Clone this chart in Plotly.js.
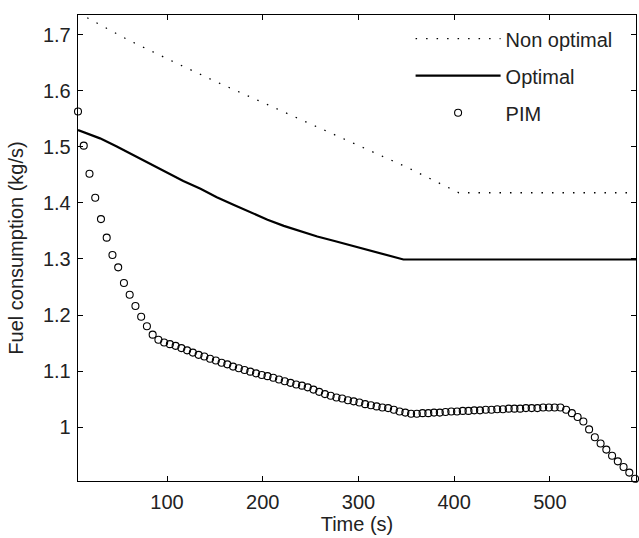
<!DOCTYPE html>
<html>
<head>
<meta charset="utf-8">
<script src="https://cdn.plot.ly/plotly-3.0.1.min.js"></script>
<style>html,body{margin:0;padding:0;background:#fff;}#chart{width:639px;height:538px;}</style>
</head>
<body>
<div id="chart"></div>
<script>
// Non optimal (dotted)
const nonOptT = [7, 60, 110, 150, 200, 250, 300, 350, 405, 590];
const nonOptV = [1.739, 1.690, 1.649, 1.617, 1.579, 1.541, 1.503, 1.464, 1.418, 1.418];

// Optimal (solid)
const optT = [7, 20, 30, 47, 65, 82, 100, 117, 135, 152, 170, 187, 205, 222, 240, 257, 275, 292, 310, 328, 347, 590];
const optV = [1.530, 1.522, 1.515, 1.501, 1.485, 1.470, 1.454, 1.439, 1.425, 1.410, 1.396, 1.383, 1.370, 1.359, 1.349, 1.340, 1.332, 1.324, 1.316, 1.308, 1.299, 1.299];

// PIM (circles)
const pimT = [7, 13, 19, 25, 31, 37, 43, 49, 55, 61, 67, 73, 79, 85, 91,
  97, 103, 109, 115, 121, 127, 133, 139, 145, 151, 157, 163, 169, 175, 181, 187, 193, 199,
  205, 211, 217, 223, 229, 235, 241, 247, 253, 259, 265, 271, 277, 283, 289, 295,
  301, 307, 313, 319, 325, 331, 337, 343, 349, 355, 361, 367, 373, 379, 385, 391, 397,
  403, 409, 415, 421, 427, 433, 439, 445, 451, 457, 463, 469, 475, 481, 487, 493, 499, 505,
  511, 517, 523, 529, 535, 541, 547, 553, 559, 565, 571, 577, 583, 589];
const pimV = [1.563, 1.502, 1.452, 1.409, 1.371, 1.338, 1.307, 1.285, 1.257, 1.236, 1.216, 1.197, 1.180, 1.165, 1.156,
  1.151, 1.148, 1.145, 1.141, 1.137, 1.133, 1.129, 1.126, 1.122, 1.119, 1.115, 1.112, 1.108, 1.105, 1.102, 1.099, 1.096, 1.093,
  1.091, 1.088, 1.085, 1.082, 1.079, 1.076, 1.074, 1.071, 1.067, 1.063, 1.059, 1.056, 1.053, 1.051, 1.048, 1.046,
  1.044, 1.041, 1.039, 1.037, 1.035, 1.034, 1.031, 1.028, 1.026, 1.024, 1.024, 1.025, 1.025, 1.026, 1.026, 1.027, 1.028,
  1.028, 1.029, 1.029, 1.030, 1.030, 1.031, 1.031, 1.032, 1.032, 1.033, 1.033, 1.033, 1.034, 1.034, 1.034, 1.035, 1.035, 1.035,
  1.035, 1.031, 1.025, 1.018, 1.010, 0.996, 0.982, 0.971, 0.960, 0.949, 0.939, 0.929, 0.919, 0.908];

const xTicks = [100, 200, 300, 400, 500];
const yTicks = [1, 1.1, 1.2, 1.3, 1.4, 1.5, 1.6, 1.7];
const yTickText = ['1', '1.1', '1.2', '1.3', '1.4', '1.5', '1.6', '1.7'];

const font = {family: 'Liberation Sans, Arial, sans-serif', size: 20, color: '#222'};

const traces = [
  {x: nonOptT, y: nonOptV, name: 'Non optimal', mode: 'lines', legendgroup: 'a',
   line: {color: '#000', width: 1.3, dash: '1.5px,9px'}},
  {x: optT, y: optV, name: 'Optimal', mode: 'lines', legendgroup: 'b',
   line: {color: '#000', width: 2.2}},
  {x: pimT, y: pimV, name: 'PIM', mode: 'markers', legendgroup: 'c', cliponaxis: false,
   marker: {symbol: 'circle-open', size: 7, color: '#000', line: {width: 1.1, color: '#000'}}}
];

const axisCommon = {
  showgrid: false, zeroline: false, showline: true, linecolor: '#000', linewidth: 1.3,
  mirror: 'allticks', ticks: 'inside', ticklen: 5, tickwidth: 1, tickcolor: '#000',
  tickfont: font
};

const layout = {
  width: 639, height: 538,
  margin: {l: 78, r: 3, t: 15, b: 57},
  paper_bgcolor: '#fff', plot_bgcolor: '#fff',
  font: font,
  showlegend: true,
  legend: {x: 0.967, xanchor: 'right', y: 0.991, yanchor: 'top', bgcolor: 'rgba(0,0,0,0)',
           font: font, itemwidth: 85, tracegroupgap: 8},
  xaxis: Object.assign({}, axisCommon, {
    range: [7, 590], tickvals: xTicks, ticklabelstandoff: 3,
    title: {text: 'Time (s)', font: font, standoff: 4}
  }),
  yaxis: Object.assign({}, axisCommon, {
    range: [0.904, 1.735], tickvals: yTicks, ticktext: yTickText, ticklabelstandoff: 2,
    title: {text: 'Fuel consumption (kg/s)', font: font, standoff: 14}
  })
};

Plotly.newPlot('chart', traces, layout, {displayModeBar: false, staticPlot: true});
</script>
</body>
</html>
